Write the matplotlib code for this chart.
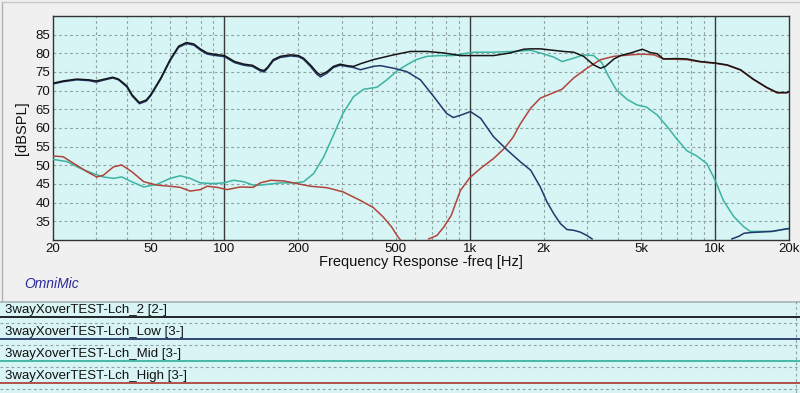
import numpy as np
import matplotlib.pyplot as plt

plt.rcParams['font.family'] = ['Liberation Sans', 'DejaVu Sans']

# Frequency response data
sum_f = [20, 22, 25, 28, 30, 33, 35, 37, 40, 42, 45, 48, 50, 55, 60, 65, 70, 75, 80, 85,
         90, 100, 110, 120, 130, 140, 145, 150, 158, 169, 186, 200, 210, 224, 238, 246, 262, 278, 296, 316,
         336, 358, 404, 490, 572, 669, 784, 916, 1000, 1250, 1460, 1660, 1770, 1938, 2196, 2414, 2650, 2910, 3198, 3409,
         3571, 3870, 4120, 4530, 5050, 5450, 5800, 6150, 6990, 7670, 8700, 10030, 11200, 12700, 14300, 16200, 17900, 19600, 20000]
sum_db = [72.0, 72.6, 73.1, 72.9, 72.6, 73.2, 73.6, 73.1, 71.3, 68.9, 66.8, 67.5, 68.9, 73.4, 78.3, 81.9, 82.9, 82.5, 81.1, 80.1,
          79.8, 79.4, 77.8, 77.1, 76.8, 75.6, 75.4, 76.3, 78.3, 79.2, 79.6, 79.4, 78.7, 76.9, 74.9, 74.2, 75.1, 76.5, 77.1, 76.7,
          76.5, 77.2, 78.3, 79.6, 80.5, 80.5, 80.1, 79.4, 79.4, 79.4, 80.1, 81.1, 81.2, 81.2, 80.8, 80.5, 80.3, 79.2, 76.9, 76.0,
          76.5, 78.5, 79.4, 80.1, 81.1, 80.2, 79.9, 78.5, 78.6, 78.5, 77.8, 77.4, 76.9, 75.6, 73.1, 70.9, 69.5, 69.5, 69.8]

low_f = [20, 22, 25, 28, 30, 33, 35, 37, 40, 42, 45, 48, 50, 55, 60, 65, 70, 75, 80, 85,
         90, 100, 110, 120, 130, 140, 145, 150, 158, 169, 186, 200, 210, 224, 238, 246, 262, 278, 296, 316,
         336, 358, 404, 432, 490, 553, 629, 713, 804, 857, 942, 1005, 1107, 1248, 1420, 1603, 1770, 1938, 2063, 2196,
         2339, 2490, 2650, 2822, 3002, 3150, 3300, 11500, 11700, 12500, 13100, 14000, 17000, 19600, 20000]
low_db = [71.8, 72.4, 72.9, 72.7, 72.3, 73.0, 73.4, 72.9, 71.0, 68.6, 66.5, 67.2, 68.6, 73.1, 78.0, 81.6, 82.6, 82.2, 80.8, 79.8,
          79.5, 79.1, 77.5, 76.8, 76.5, 75.3, 75.0, 76.0, 78.0, 78.9, 79.3, 79.1, 78.4, 76.5, 74.4, 73.7, 74.7, 76.2, 76.8, 76.5,
          76.2, 75.6, 76.5, 76.7, 76.0, 75.1, 72.9, 68.4, 63.9, 62.8, 63.7, 64.4, 62.6, 57.7, 54.1, 51.0, 48.7, 44.2, 40.2, 37.1,
          34.4, 32.8, 32.6, 32.1, 31.2, 30.3, np.nan, np.nan, 30.3, 31.0, 31.8, 32.0, 32.3, 33.0, 33.0]

mid_f = [20, 22.8, 25.8, 29.2, 32, 35.3, 38.1, 41.9, 46.9, 53, 60, 66, 72.5, 79.8, 90.4, 99.3, 109, 120, 131, 140,
         169, 194, 210, 231, 254, 278, 304, 336, 370, 418, 459, 505, 553, 604, 669, 759, 857, 942, 1038, 1248,
         1500, 1770, 1938, 2196, 2378, 2650, 2910, 3198, 3460, 3680, 3960, 4370, 4790, 5250, 5800, 6350, 6990, 7670, 8420, 9240,
         10000, 10800, 11900, 13100, 13900, 17200, 19600, 20000]
mid_db = [51.6, 51.0, 49.2, 47.8, 46.9, 46.5, 46.9, 45.6, 44.2, 44.9, 46.5, 47.2, 46.5, 45.3, 45.1, 45.3, 46.0, 45.6, 44.7, 44.7,
          45.3, 45.3, 45.6, 47.8, 52.3, 58.1, 63.9, 68.4, 70.4, 70.9, 72.9, 75.3, 76.9, 78.3, 79.2, 79.4, 79.4, 79.9, 80.3, 80.3,
          80.5, 80.8, 80.1, 79.0, 77.8, 78.7, 79.6, 79.4, 77.4, 73.8, 70.2, 67.7, 66.2, 65.6, 63.5, 60.5, 57.0, 53.9, 52.5, 50.5,
          46.0, 40.6, 36.3, 33.5, 32.3, 32.3, 33.0, 33.2]

high_f = [20, 22, 24.3, 27.5, 30.1, 32, 35.3, 38.1, 41.9, 46.9, 53, 60, 66, 72.5, 79.8, 85, 93.3, 102.5, 116, 131,
          140, 154.5, 175, 198, 224, 262, 304, 358, 404, 443, 480, 505, 530, 600, 680, 734, 784, 840, 916, 1000,
          1107, 1248, 1380, 1500, 1603, 1770, 1938, 2130, 2378, 2650, 3002, 3409, 3870, 4530, 5050, 5640, 6150, 6990, 7670, 8700,
          10030, 11200, 12700, 14300, 16200, 17900, 19600, 20000]
high_db = [52.5, 52.3, 50.5, 48.3, 46.9, 47.3, 49.6, 50.1, 48.3, 45.6, 44.7, 44.4, 44.1, 43.1, 43.5, 44.4, 44.1, 43.5, 44.2, 44.1,
           45.3, 46.0, 45.8, 45.1, 44.4, 44.0, 42.9, 40.6, 38.7, 36.2, 33.5, 31.2, 29.4, np.nan, 30.3, 31.2, 33.5, 36.6, 43.3, 46.7,
           49.2, 51.8, 54.5, 57.5, 61.0, 65.3, 68.0, 69.1, 70.4, 73.4, 76.0, 78.3, 79.2, 79.6, 79.8, 79.6, 78.5, 78.4, 78.3, 77.7,
           77.3, 76.8, 75.5, 73.0, 70.8, 69.4, 69.4, 69.7]

names = ['3wayXoverTEST-Lch_2 [2-]', '3wayXoverTEST-Lch_Low [3-]',
         '3wayXoverTEST-Lch_Mid [3-]', '3wayXoverTEST-Lch_High [3-]']
colors = ['#151515', '#22386a', '#3cb3a2', '#b0443a']

xticks = [20, 50, 100, 200, 500, 1000, 2000, 5000, 10000, 20000]
xticklabels = ['20', '50', '100', '200', '500', '1k', '2k', '5k', '10k', '20k']
yticks = [35, 40, 45, 50, 55, 60, 65, 70, 75, 80, 85]

W, H = 800, 393
fig = plt.figure(figsize=(W / 100, H / 100), dpi=100, facecolor='#f0f0f0')

# main plot area
ax = fig.add_axes([53 / W, 1 - 240 / H, 736 / W, 224 / H], facecolor='#d7f5f5')
ax.set_xscale('log')
ax.set_xlim(20, 20000)
ax.set_ylim(30, 90)

minor = [m * d for d in (10, 100, 1000) for m in range(2, 10)]
for f in minor:
    if 20 < f < 20000:
        ax.axvline(f, color='#8fa3a3', lw=0.8, ls=(0, (2.5, 2.5)), zorder=1)
for y in yticks:
    ax.axhline(y, color='#8fa3a3', lw=0.8, ls=(0, (2.5, 2.5)), zorder=1)
for f in (100, 1000, 10000):
    ax.axvline(f, color='#3a3a3a', lw=1.0, zorder=1)

curves = [(sum_f, sum_db), (low_f, low_db), (mid_f, mid_db), (high_f, high_db)]
order = [2, 3, 1, 0]
for i in order:
    f, d = curves[i]
    ax.plot(f, d, color=colors[i], lw=1.1, zorder=3 + (i == 0))

ax.set_xticks(xticks)
ax.set_xticklabels(xticklabels)
ax.set_xticks([], minor=True)
ax.set_yticks(yticks)
ax.tick_params(length=0, labelsize=9.5, pad=2, colors='#111111')
for s in ax.spines.values():
    s.set_color('#333333')
    s.set_linewidth(1.0)

fig.text(421 / W, 1 - 262 / H, 'Frequency Response -freq [Hz]', ha='center', va='center', fontsize=10.5, color='#111111')
fig.text(22 / W, 1 - 128 / H, '[dBSPL]', ha='center', va='center', rotation=90, fontsize=10.5, color='#111111')
fig.text(24 / W, 1 - 284 / H, 'OmniMic', ha='left', va='center', fontsize=10, style='italic', color='#2a2a9a')

# outer frame lines
fig.add_artist(plt.Line2D([2 / W, 2 / W], [1 - 2 / H, 1 - 301 / H], color='#b0b0b0', lw=1))
fig.add_artist(plt.Line2D([2 / W, 1], [1 - 2 / H, 1 - 2 / H], color='#c8c8c8', lw=1))

# legend rows at the bottom
lg = fig.add_axes([0, 0, 1, 1 - 301 / H], facecolor='#d8f4f4')
lg.set_xlim(0, W)
lg.set_ylim(H, 301)
lg.axis('off')
lg.add_patch(plt.Rectangle((0, 301), W, H - 301, color='#d8f4f4', zorder=0))
lg.axhline(301.5, color='#a8b4b4', lw=1.2)
for i, (name, c) in enumerate(zip(names, colors)):
    y0 = 317 + 22 * i
    lg.text(5, y0 - 7.5, name, ha='left', va='center', fontsize=9.5, color='#111111')
    lg.plot([0, W], [y0, y0], color=c, lw=1.3)
    lg.plot([0, W], [y0 + 6, y0 + 6], color='#8fa3a3', lw=0.8, ls=(0, (2.5, 2.5)))
lg.plot([795.5, 795.5], [301, H], color='#8fa3a3', lw=0.8, ls=(0, (2.5, 2.5)))

fig.savefig('out.png', dpi=100, facecolor=fig.get_facecolor())
